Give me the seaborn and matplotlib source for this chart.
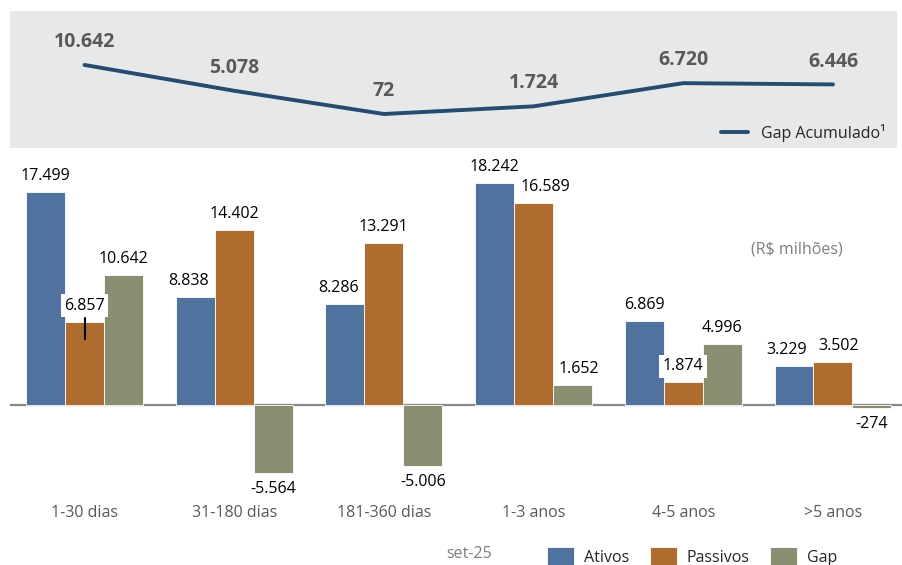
import pandas as pd
import matplotlib.pyplot as plt
import seaborn as sns

# dados (R$ milhões, set-25)
categorias = ["1-30 dias", "31-180 dias", "181-360 dias", "1-3 anos", "4-5 anos", ">5 anos"]
ativos = [17499, 8838, 8286, 18242, 6869, 3229]
passivos = [6857, 14402, 13291, 16589, 1874, 3502]
gap = [10642, -5564, -5006, 1652, 4996, -274]
gap_acumulado = [10642, 5078, 72, 1724, 6720, 6446]
series = ["Ativos", "Passivos", "Gap"]
cores = ["#4F739E", "#AE6C2F", "#8B8F72"]

# deslocamento horizontal dos rotulos (px), para nao encavalar
ajuste_x = [[0, -7, -6, 0, 0, -7],
            [0, 0, 0, 12, 0, 6],
            [0, 0, 0, 6, 0, 0]]


def fmt(v):
    return f"{v:,}".replace(",", ".")


df = pd.DataFrame({"faixa": categorias, "Ativos": ativos, "Passivos": passivos, "Gap": gap})
longo = df.melt(id_vars="faixa", var_name="serie", value_name="valor")

sns.set_style("white")
plt.rcParams["font.family"] = ["Open Sans", "DejaVu Sans"]

W, H = 903, 565
fig = plt.figure(figsize=(W / 100, H / 100), dpi=100)


def px_axes(x0, y0, x1, y1):
    return fig.add_axes([x0 / W, 1 - y1 / H, (x1 - x0) / W, (y1 - y0) / H])


ax_top = px_axes(10, 11, 897, 148)
ax = px_axes(10, 160, 903, 495)

# painel de cima: gap acumulado
ax_top.set_facecolor("#E7E8E9")
sns.lineplot(x=list(range(len(categorias))), y=gap_acumulado, ax=ax_top,
             color="#254B70", lw=2.8, label="Gap Acumulado\u00b9")
for i, v in enumerate(gap_acumulado):
    ax_top.annotate(fmt(v), (i, v), xytext=(0, 16.5), textcoords="offset points",
                    ha="center", va="center", fontsize=14, fontweight="bold", color="#595959")
ax_top.set_xlim(-0.4977, 5.4275)
ax_top.set_ylim(-7255, 22269)
ax_top.set_xticks([])
ax_top.set_yticks([])
for s in ax_top.spines.values():
    s.set_visible(False)
ax_top.legend(loc="center left", bbox_to_anchor=(721 / W, 1 - 133 / H),
              bbox_transform=fig.transFigure, frameon=False, fontsize=11.5,
              handlelength=1.7, handletextpad=0.8, borderpad=0, borderaxespad=0)

# painel de baixo: barras
sns.barplot(data=longo, x="faixa", y="valor", hue="serie", hue_order=series,
            palette=cores, width=0.78, saturation=1, ax=ax,
            edgecolor="white", linewidth=0.6)
ax.set_xlim(-0.4977, 5.468)
ax.set_ylim(-7394, 20127)
ax.axhline(0, color="#888888", lw=1.6, zorder=0.5)

upp = (20127 + 7394) / 335  # unidades por pixel
for k, (cont, vals) in enumerate(zip(ax.containers, [ativos, passivos, gap])):
    for i, (bar, v) in enumerate(zip(cont, vals)):
        cx = bar.get_x() + bar.get_width() / 2
        off = 11.5 if v >= 0 else -11.5
        caixa = None
        if k == 1 and v < ativos[i] and v < gap[i]:
            caixa = dict(facecolor="white", edgecolor="none", pad=2.5)
        ax.annotate(fmt(v), (cx, v), xytext=(ajuste_x[k][i] * 0.72, off),
                    textcoords="offset points", ha="center", va="center",
                    fontsize=11.5, color="black", bbox=caixa)
        if k == 1 and i == 0:
            ax.plot([cx, cx], [v + 4 * upp, v - 17 * upp], color="black", lw=1.5)

ax.set_xticks(range(len(categorias)))
ax.set_xticklabels(categorias)
ax.tick_params(axis="x", length=0, pad=7.5, labelsize=11.5, labelcolor="#595959")
ax.set_yticks([])
ax.set_xlabel("")
ax.set_ylabel("")
sns.despine(ax=ax, left=True, bottom=True)

handles, labels = ax.get_legend_handles_labels()
ax.get_legend().remove()
fig.legend(handles, labels, loc="center left", bbox_to_anchor=(547 / W, 1 - 557 / H),
           ncol=3, frameon=False, fontsize=11.5, handlelength=1.7, handleheight=1.5,
           handletextpad=0.6, columnspacing=1.3, borderpad=0, borderaxespad=0)

fig.text(446 / W, 1 - 554 / H, "set-25", ha="left", va="center", color="#7f7f7f", fontsize=11.5)
fig.text(797 / W, 1 - 250 / H, "(R$ milhões)", ha="center", va="center", color="#7f7f7f", fontsize=11.5)

fig.savefig("out.png", dpi=100)
